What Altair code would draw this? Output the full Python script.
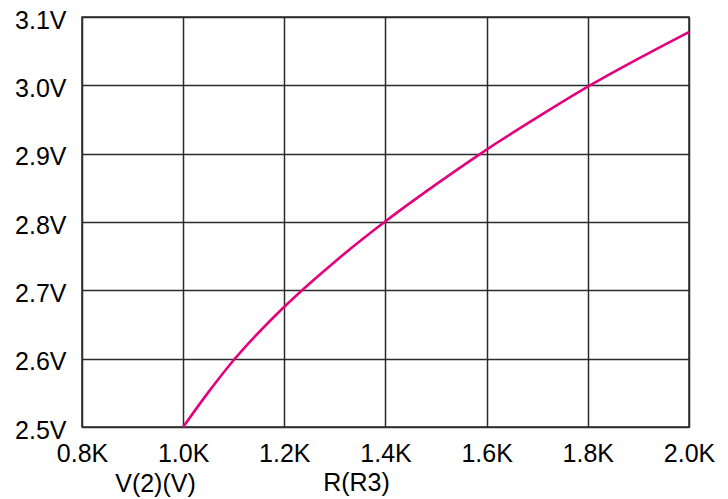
import altair as alt
import pandas as pd

r_k = [1.0, 1.05, 1.1, 1.2, 1.3, 1.4, 1.5, 1.6, 1.7, 1.8, 1.9, 2.0]
v_out = [2.5, 2.551, 2.598, 2.676, 2.742, 2.801, 2.855, 2.906, 2.953, 2.998, 3.039, 3.078]
x_ticks = [0.8, 1.0, 1.2, 1.4, 1.6, 1.8, 2.0]
y_ticks = [2.5, 2.6, 2.7, 2.8, 2.9, 3.0, 3.1]

df = pd.DataFrame({"R": r_k, "V": v_out})

FONT = "Liberation Sans"

line = alt.Chart(df).mark_line(color="#E5007D", strokeWidth=2.6, interpolate="monotone").encode(
    x=alt.X("R:Q",
            scale=alt.Scale(domain=[0.8, 2.0], nice=False, zero=False),
            axis=alt.Axis(values=x_ticks, labelExpr="format(datum.value, '.1f') + 'K'",
                          title="R(R3)", titleX=274, titleY=63, titleAnchor="middle",
                          titleAlign="center", titleBaseline="alphabetic",
                          titleFont=FONT, titleFontSize=25, titleFontWeight="normal",
                          titleColor="#000",
                          labelFont=FONT, labelFontSize=25, labelColor="#000",
                          labelPadding=14, labelFlush=False, labelOverlap=False,
                          ticks=False, domain=False,
                          grid=True, gridColor="#2b2b2b", gridWidth=1.5, gridOpacity=1)),
    y=alt.Y("V:Q",
            scale=alt.Scale(domain=[2.5, 3.1], nice=False, zero=False),
            axis=alt.Axis(values=y_ticks, labelExpr="format(datum.value, '.1f') + 'V'",
                          title="V(2)(V)", titleAngle=0, titleX=73, titleY=474,
                          titleAlign="center", titleBaseline="alphabetic",
                          titleFont=FONT, titleFontSize=25, titleFontWeight="normal",
                          titleColor="#000",
                          labelFont=FONT, labelFontSize=25, labelColor="#000",
                          labelPadding=16, labelFlush=False, labelOverlap=False,
                          labelBaseline="middle", labelOffset=3,
                          ticks=False, domain=False,
                          grid=True, gridColor="#2b2b2b", gridWidth=1.5, gridOpacity=1)),
)

chart = line.properties(
    width=607, height=410,
    autosize=alt.AutoSizeParams(type="none"),
    padding={"left": 74, "top": 9, "right": 30, "bottom": 70},
    background="white",
).configure_view(stroke="#2b2b2b", strokeWidth=1.5)

chart.save("out.html", embed_options={"renderer": "svg", "actions": False})
